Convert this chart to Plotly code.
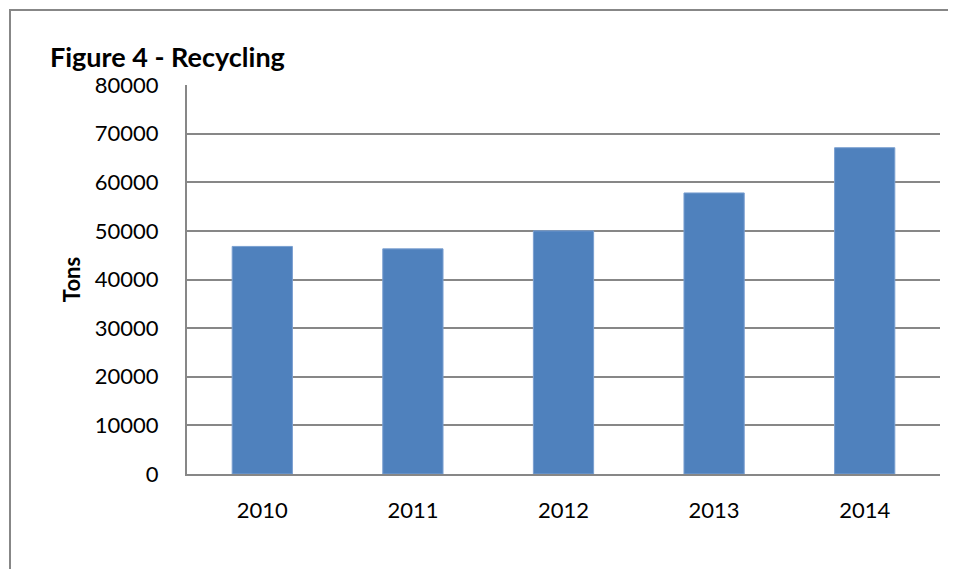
import plotly.graph_objects as go

years = ["2010", "2011", "2012", "2013", "2014"]
tons = [46800, 46300, 50000, 57800, 67100]
y_ticks = [0, 10000, 20000, 30000, 40000, 50000, 60000, 70000, 80000]

OFF = 8  # page body margin shift
W, H = 956, 569
L, R, T, B = 187 - OFF, 16 + OFF, 85 - OFF, 95 + OFF
pw, ph = W - L - R, H - T - B

def px_x(px):
    return (px - OFF - L) / pw

def px_y(py):
    return (H - B - (py - OFF)) / ph

FONT = "Lato"
GRAY = "#878787"

fig = go.Figure(go.Bar(x=years, y=tons, marker=dict(color="#4F81BD", line=dict(color="#7A9FD0", width=1)), width=0.4))

fig.update_layout(
    width=W, height=H,
    margin=dict(l=L, r=R, t=T, b=B),
    paper_bgcolor="white", plot_bgcolor="white",
    showlegend=False,
    font=dict(family=FONT, size=22, color="#000000"),
    xaxis=dict(showgrid=False, showline=True, linecolor=GRAY, linewidth=2,
               ticks="", tickfont=dict(size=22), ticklabelstandoff=16),
    yaxis=dict(range=[0, 80000], tickvals=y_ticks, ticktext=[str(v) for v in y_ticks],
               showgrid=True, gridcolor=GRAY, gridwidth=1.5,
               showline=True, linecolor=GRAY, linewidth=2, zeroline=False,
               ticks="", tickfont=dict(size=22), ticklabelstandoff=22,
               title=dict(text="<b>Tons</b>", font=dict(size=22), standoff=8)),
    shapes=[dict(type="rect", xref="paper", yref="paper",
                 x0=px_x(10), x1=px_x(W + 50), y0=px_y(H + 50), y1=px_y(10),
                 line=dict(color=GRAY, width=2), fillcolor="rgba(0,0,0,0)", layer="below")],
    annotations=[dict(text="<b>Figure 4 - Recycling</b>", xref="paper", yref="paper",
                      x=px_x(48), y=px_y(57), xanchor="left", yanchor="middle",
                      showarrow=False, font=dict(size=27, family=FONT))],
)

fig.write_html("out.html")
